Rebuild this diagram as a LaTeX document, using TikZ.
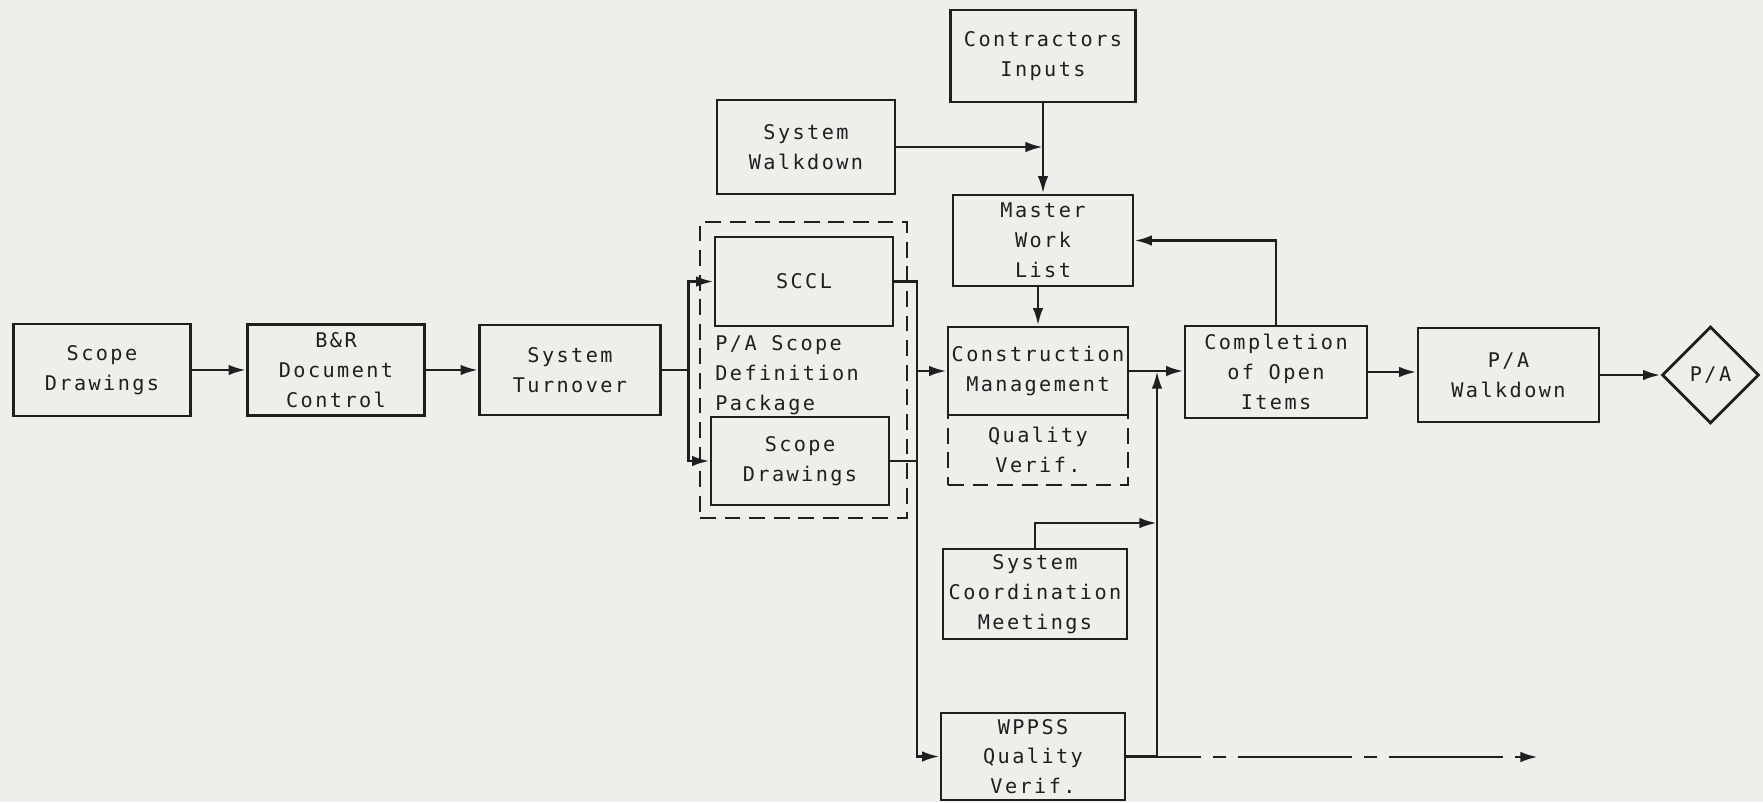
\documentclass[tikz,border=0pt]{standalone}
\usepackage{fontspec}
\usetikzlibrary{arrows.meta,shapes.geometric}
\newfontfamily\typefont{DejaVu Sans Mono}[LetterSpace=12]
\definecolor{paper}{HTML}{EEEEEB}
\definecolor{ink}{HTML}{1F1F1F}
\newcommand{\boxfont}{\typefont\fontsize{11.5}{17}\selectfont}

\begin{document}
\begin{tikzpicture}[x=0.02cm,y=-0.02cm,>={Latex[length=10pt,width=6pt]},line width=1.6pt,ink,
  blk/.style={draw,minimum width=3.6cm,minimum height=1.82cm,inner sep=0pt,align=center,font=\boxfont},
  dsh/.style={dash pattern=on 9pt off 5pt}]
 \fill[paper] (0,0) rectangle (1763,802);
 % main row
 \node[blk,minimum width=3.54cm,minimum height=1.84cm] (scope) at (102,370) {Scope\\Drawings};
 \node[blk,minimum width=3.54cm] (brdoc) at (336,370) {B\&R\\Document\\Control};
 \node[blk,minimum width=3.62cm,minimum height=1.8cm] (turnover) at (570,370) {System\\Turnover};
 % scope definition package
 \node[draw,dsh,minimum width=4.14cm,minimum height=5.92cm] (pkg) at (803.5,370) {};
 \node[blk,minimum width=3.56cm,minimum height=1.78cm] (sccl) at (804,281.5) {SCCL};
 \node[blk,minimum width=3.56cm,minimum height=1.76cm] (scopein) at (800,461) {Scope\\Drawings};
 \node[font=\boxfont,align=left,anchor=west,inner sep=0pt] (pkglbl) at (714,375) {P/A Scope\\Definition\\Package};
 \node[blk,minimum width=3.56cm,minimum height=1.88cm] (walkdown) at (806,147) {System\\Walkdown};
 \node[blk,minimum width=3.7cm,minimum height=1.84cm] (contractors) at (1043,56) {Contractors\\Inputs};
 \node[blk] (master) at (1043,240.5) {Master\\Work\\List};
 \node[blk,minimum height=1.76cm] (constr) at (1038,371) {Construction\\Management};
 \node[blk,dsh,minimum height=1.4cm] (qv) at (1038,450) {Quality\\Verif.};
 \node[blk,minimum width=3.68cm,minimum height=1.8cm] (coord) at (1035,594) {System\\Coordination\\Meetings};
 \node[blk,minimum width=3.68cm,minimum height=1.74cm] (wppss) at (1033,756.5) {WPPSS\\Quality\\Verif.};
 \node[blk,minimum width=3.64cm,minimum height=1.84cm] (complete) at (1276,372) {Completion\\of Open\\Items};
 \node[blk,minimum width=3.62cm,minimum height=1.88cm] (pawalk) at (1508.5,375) {P/A\\Walkdown};
 \node[draw,diamond,minimum size=1.94cm,inner sep=0pt,font=\boxfont] (pa) at (1710.5,375) {P/A};
 \coordinate (bus) at (917,370);
 \coordinate (join) at (1157,523);
 \coordinate (tee) at (1157,757);
 \coordinate (out) at (1538,757);
 % connectors
 \draw[->] (scope) -- (brdoc);
 \draw[->] (brdoc) -- (turnover);
 \draw (turnover.east) -- ++(27,0) coordinate (sp);
 \draw[->] (sp) |- (sccl.west);
 \draw[->] (sp) |- (scopein.west);
 \draw[->] (sccl.east) -| (bus |- wppss.west) -- (wppss.west);
 \draw (scopein.east) -- (scopein.east -| bus);
 \draw[->] (bus |- constr.west) -- (constr.west);
 \draw[->] (walkdown.east) -- (walkdown.east -| contractors.south);
 \draw[->] (contractors) -- (master);
 \draw[->] (constr.north |- master.south) -- (constr.north);
 \draw[->] (constr.east) -- (constr.east -| complete.west);
 \draw[->] (complete.north) |- (master.east);
 \draw[->] (complete.east) -- (complete.east -| pawalk.west);
 \draw[->] (pawalk) -- (pa);
 \draw[->] (coord.north) |- (join);
 \draw[->] (wppss.east) -| (tee |- constr.east);
 \draw[->,dash pattern=on 65pt off 7pt on 7pt off 7pt,dash phase=40pt] (tee) -- (out);
\end{tikzpicture}
\end{document}
